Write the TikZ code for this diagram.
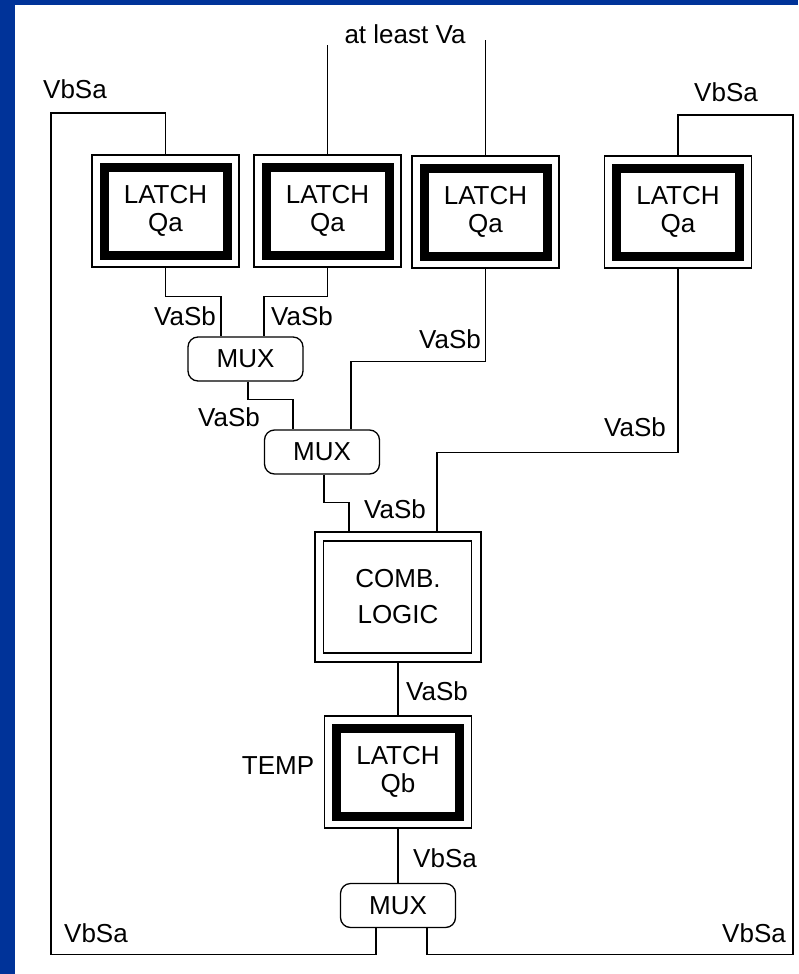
\documentclass[tikz,border=0pt]{standalone}
\usepackage{fontspec}
\setmainfont{Liberation Sans}
\usetikzlibrary{arrows.meta, positioning, shapes.geometric, fit, backgrounds}
\definecolor{slideblue}{RGB}{0,51,153}

\begin{document}
\begin{tikzpicture}[x=1pt, y=-1pt,
    every node/.style = {font=\fontsize{26}{28}\selectfont},
    wire/.style = {line width=1.3pt},
    latch/.style = {draw, line width=1.3pt, minimum width=147pt, minimum height=112pt,
        inner sep=0pt, align=center,
        path picture={\draw[line width=9pt]
            ([shift={(12pt,-12pt)}]path picture bounding box.north west) rectangle
            ([shift={(-12pt,12pt)}]path picture bounding box.south east);}},
    logic/.style = {draw, line width=1.3pt, minimum width=166pt, minimum height=130pt,
        inner sep=0pt, align=center,
        path picture={\draw[line width=1.3pt]
            ([shift={(8.5pt,-9pt)}]path picture bounding box.north west) rectangle
            ([shift={(-9.5pt,9pt)}]path picture bounding box.south east);}},
    mux/.style = {draw, line width=1.3pt, rounded corners=10pt, minimum width=115pt,
        minimum height=44pt, inner sep=0pt},
    lbl/.style = {inner sep=0pt}]
    % slide frame
    \useasboundingbox (0,0) rectangle (798,974);
    \fill[slideblue] (0,0) rectangle (798,974);
    \fill[white] (15,5) rectangle (798,974);

    % blocks
    \node[latch] (l1) at (165.5,211) {LATCH\\Qa};
    \node[latch] (l2) at (327.5,211) {LATCH\\Qa};
    \node[latch] (l3) at (485.5,212) {LATCH\\Qa};
    \node[latch] (l4) at (678,212) {LATCH\\Qa};
    \node[mux] (mux1) at (245.5,359) {MUX};
    \node[mux] (mux2) at (322,452) {MUX};
    \node[logic] (comb) at (398,597) {COMB.\\[8pt]LOGIC};
    \node[latch] (temp) at (398,772) {LATCH\\Qb};
    \node[mux] (mux3) at (398,905.5) {MUX};

    % inputs
    \coordinate (va2) at (327.5,45);
    \coordinate (va3) at (485.5,40);
    \draw[wire] (l2.north) -- (va2);
    \draw[wire] (l3.north) -- (va3);

    % connections
    \draw[wire] (l1.south) -- ++(0,29) -| ([xshift=-24.5pt]mux1.north);
    \draw[wire] (l2.south) -- ++(0,29) -| ([xshift=18.5pt]mux1.north);
    \draw[wire] ([xshift=2.5pt]mux1.south) -- ++(0,18) -| ([xshift=-29pt]mux2.north);
    \draw[wire] (l3.south) -- ++(0,93) -| ([xshift=29pt]mux2.north);
    \draw[wire] ([xshift=2pt]mux2.south) -- ++(0,28) -| ([xshift=-49pt]comb.north);
    \draw[wire] (l4.south) -- ++(0,184) -| ([xshift=39pt]comb.north);
    \draw[wire] (comb.south) -- (temp.north);
    \draw[wire] (temp.south) -- (mux3.north);
    \draw[wire] ([xshift=-22pt]mux3.south) -- ++(0,26) -| (51,113) -| (l1.north);
    \draw[wire] ([xshift=29pt]mux3.south) -- ++(0,26) -| (793,115) -| (l4.north);

    % labels
    \node[lbl] (vbsa1) at (75,89) {VbSa};
    \node[lbl] (vbsa2) at (726,92) {VbSa};
    \node[lbl] (atleast) at (405,34) {at least Va};
    \node[lbl, anchor=east] (vasb1) at (216,316) {VaSb};
    \node[lbl, anchor=west] (vasb2) at (271,316) {VaSb};
    \node[lbl] (vasb3) at (229,417) {VaSb};
    \node[lbl] (vasb4) at (450,339) {VaSb};
    \node[lbl] (vasb5) at (395,509) {VaSb};
    \node[lbl] (vasb6) at (635,427) {VaSb};
    \node[lbl] (vasb7) at (437,691) {VaSb};
    \node[lbl] (tempname) at (278,766) {TEMP};
    \node[lbl] (vbsa3) at (445,858) {VbSa};
    \node[lbl] (vbsa4) at (96,933) {VbSa};
    \node[lbl] (vbsa5) at (754,933) {VbSa};
\end{tikzpicture}
\end{document}
